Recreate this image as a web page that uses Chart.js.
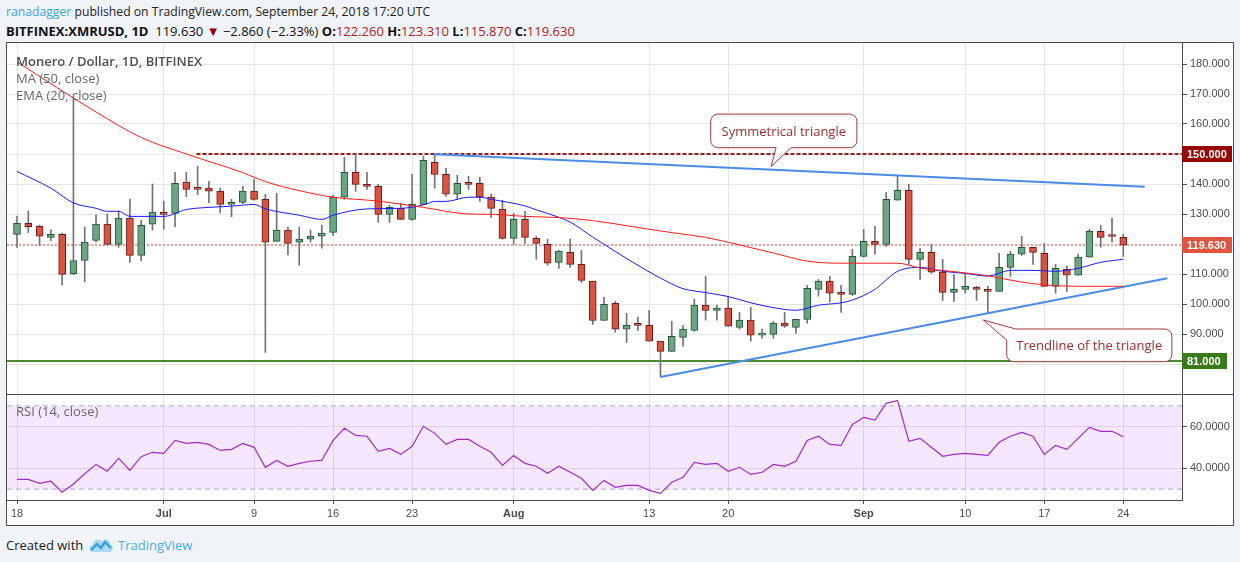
<!DOCTYPE html>
<html>
<head>
<meta charset="utf-8">
<script src="https://cdn.jsdelivr.net/npm/chart.js@4.4.1/dist/chart.umd.min.js"></script>
<style>
  body { margin: 0; width: 1240px; height: 562px; background: #f0f3f7; position: relative; overflow: hidden;
         font-family: 'Open Sans', 'Noto Sans', sans-serif; }
  #hdr1 { position: absolute; left: 6px; top: 3px; font-size: 12.2px; color: #222; white-space: nowrap; }
  #hdr1 .user { color: #3ba3db; }
  #hdr2 { position: absolute; left: 6px; top: 22px; font-size: 13px; color: #111; white-space: nowrap; }
  #hdr2 .r { color: #b0201e; }
  #frame { position: absolute; left: 6px; top: 42px; width: 1226px; height: 482px; border: 1px solid #4b4b4b; background: #fff; }
  #frame canvas { position: absolute; left: 0; }
  .lbl { position: absolute; left: 9px; font-size: 13px; color: #666; white-space: nowrap; }
  #foot { position: absolute; left: 6px; top: 536px; font-size: 13px; color: #222; white-space: nowrap; }
  #foot svg { position: absolute; left: 82px; top: 1px; }
  #foot .tv { position: absolute; left: 112px; top: 0; color: #45aee4; }
</style>
</head>
<body>
<div id="hdr1"><span class="user">ranadagger</span> published on TradingView.com, September 24, 2018 17:20 UTC</div>
<div id="hdr2"><b>BITFINEX:XMRUSD, 1D</b>&nbsp; 119.630 <span style="color:#8b0000">&#9660;</span> &minus;2.860 (&minus;2.33%) <b>O:</b><span class="r">122.260</span> <b>H:</b><span class="r">123.310</span> <b>L:</b><span class="r">115.870</span> <b>C:</b><span class="r">119.630</span></div>

<div id="frame">
  <canvas id="main" width="1226" height="351" style="top:0;width:1226px;height:351px"></canvas>
  <canvas id="rsi" width="1226" height="131" style="top:351px;width:1226px;height:131px"></canvas>
  <div class="lbl" style="top:9px;color:#4f4f4f;font-weight:600">Monero / Dollar, 1D, BITFINEX</div>
  <div class="lbl" style="top:26px">MA (50, close)</div>
  <div class="lbl" style="top:43px">EMA (20, close)</div>
  <div class="lbl" style="top:359px">RSI (14, close)</div>
</div>

<div id="foot">Created with
  <svg width="26" height="16" viewBox="0 0 26 16"><path d="M5 15 C0 15 0 8 5 8 C5 2 12 1 14 5 C16 1 23 2 22 8 C26 8 26 15 21 15 Z" fill="#a8daf2"/><polyline points="3,13 9,7 13,11 17,5 23,11" fill="none" stroke="#3ba4dc" stroke-width="2.5"/></svg>
  <span class="tv">TradingView</span>
</div>

<script>
// ---- data (day index 0 = Jun 18 2018, 98 = Sep 24 2018) ----
const opens = [123.2,126.9,125.9,122.2,123.2,110.1,114.5,121.2,126.6,119.9,
  128.6,116.2,126.6,130.6,130.2,140.6,138.6,138.6,137.6,133.2,
  133.9,137.6,134.9,120.9,124.6,120.6,121.6,122.6,123.9,135.6,
  143.9,139.6,139.2,129.9,131.9,128.2,133.2,147.2,143.2,136.6,
  140.2,140.2,135.6,131.6,121.9,128.2,121.9,119.9,113.9,117.2,
  113.2,107.6,94.5,100.2,91.6,93.2,92.9,87.6,84.2,88.9,
  91.2,99.6,97.9,98.6,92.2,94.6,89.6,89.9,93.6,92.2,
  94.9,104.9,107.6,103.6,103.2,115.9,120.9,119.9,134.6,137.9,
  114.9,117.2,110.6,103.9,104.9,105.6,104.9,104.2,112.2,116.6,
  118.9,116.9,105.9,111.6,109.6,115.6,124.2,122.6,122.26];
const highs = [129.3,131.0,126.3,124.7,123.6,169.0,125.6,129.7,130.0,131.0,
  135.0,127.9,140.0,134.3,143.9,143.9,146.0,140.9,138.6,134.9,
  139.2,141.6,136.6,136.9,125.6,125.6,124.7,126.3,136.2,148.9,
  149.9,143.9,139.9,132.9,133.6,143.2,149.3,149.9,145.2,142.9,
  142.6,142.2,136.6,134.6,130.2,130.9,122.6,121.6,117.9,121.6,
  117.9,107.6,102.2,100.9,96.9,95.6,97.9,87.6,94.2,92.9,
  101.6,109.2,99.6,102.6,97.2,98.9,91.6,94.2,97.2,94.9,
  106.2,108.2,109.2,106.2,118.2,124.9,125.9,137.2,142.9,139.9,
  118.6,119.9,114.9,109.9,109.9,105.9,105.9,116.9,117.6,122.6,
  118.9,120.2,113.2,112.6,116.6,124.9,126.2,128.6,123.31];
const lows = [118.9,123.8,119.6,121.1,106.4,109.8,107.4,120.6,119.9,118.9,
  113.9,114.4,124.6,124.9,125.8,135.8,136.4,133.8,130.4,129.1,
  133.4,134.6,83.9,120.9,116.4,112.9,120.6,118.6,122.9,134.9,
  137.6,138.2,127.2,127.2,128.2,127.9,133.2,138.6,135.9,134.9,
  138.2,134.2,128.9,121.6,119.9,120.2,114.9,112.9,111.9,112.2,
  107.2,93.2,94.5,90.6,87.2,91.2,87.6,75.7,84.2,85.9,
  90.9,94.6,94.6,92.6,91.6,87.6,88.6,88.6,92.2,90.2,
  93.6,102.6,100.6,97.2,102.9,115.6,116.6,119.2,134.6,113.2,
  108.2,110.2,101.2,100.9,103.6,101.2,96.9,104.2,109.2,116.2,
  113.2,105.9,103.6,104.2,109.6,115.6,118.9,120.6,115.87];
const closes = [126.9,125.8,122.6,123.2,109.9,114.5,120.6,126.6,119.9,128.6,
  116.2,126.2,130.6,129.9,140.2,138.2,138.2,137.6,133.2,133.9,
  137.6,134.9,120.6,124.6,120.2,121.6,122.6,123.6,135.6,143.9,
  139.9,139.2,129.9,132.2,128.2,133.2,147.9,143.2,136.6,140.2,
  139.9,135.6,131.9,121.9,128.2,122.2,120.2,113.6,117.6,113.2,
  107.9,94.5,99.9,91.6,92.9,92.9,87.6,84.2,89.2,91.6,
  99.6,97.9,98.6,92.6,94.6,89.6,90.2,93.6,92.6,94.9,
  105.2,107.6,103.6,103.2,115.9,120.9,119.9,134.9,137.9,114.9,
  117.2,110.6,103.9,104.9,105.9,104.9,104.2,112.2,116.6,118.9,
  117.2,105.9,111.9,109.6,115.6,124.2,122.2,122.49,119.63];

// moving averages at these days
const ma50Days = [0,7,11,15,20,22,25,28,32,36,40,42,45,48,51,55,58,61,64,67,70,73,78,80,83,86,89,92,95,98];
const ma50Vals = [180.7,164.0,155.5,150.0,143.8,140.8,137.8,135.6,134.3,132.2,130.0,129.9,129.2,128.8,127.8,
  125.5,123.8,122.2,119.7,117.0,114.3,113.6,113.6,112.0,110.8,109.4,107.3,106.1,105.9,105.9];
const ema20Days = [0,3,5,7,8,9,10,13,15,17,19,21,22,25,27,28,31,34,36,37,38,40,41,42,45,46,48,49,51,52,
  53,56,58,59,61,63,65,67,69,71,73,74,76,77,78,80,82,84,86,88,90,92,94,96,98];
const ema20Vals = [144.2,138.6,133.7,131.9,130.9,130.9,129.2,129.2,131.5,132.2,132.6,133.2,131.7,129.6,128.2,
  129.6,131.7,131.9,133.0,134.2,134.2,135.6,135.6,134.9,132.7,131.4,128.9,127.3,122.3,119.9,
  117.5,110.7,106.7,105.1,103.8,102.5,100.4,98.8,97.9,99.6,100.4,101.3,104.9,108.0,110.9,
  112.2,110.9,110.2,109.3,111.2,111.2,110.9,111.9,113.9,114.9];

const rsiVals = [34.7,34.7,32.8,33.8,28.5,32.5,37.4,41.9,38.6,44.8,
  39.0,45.6,47.7,47.2,53.4,52.0,52.5,51.5,48.6,49.1,
  52.0,50.1,40.5,43.8,41.0,42.4,43.4,43.8,53.4,59.2,
  55.8,55.4,48.2,49.6,46.7,50.6,60.2,56.8,51.5,53.9,
  53.9,50.6,47.7,41.4,46.2,42.4,41.0,37.6,41.0,38.1,
  35.2,29.4,34.2,30.9,31.8,31.8,29.4,28.0,33.3,35.7,
  42.9,41.9,42.4,38.6,40.5,37.1,38.1,41.9,41.0,43.4,
  53.4,55.4,51.5,51.0,61.1,64.5,63.2,71.2,72.6,53.0,
  54.4,50.1,45.8,46.7,47.2,46.7,46.2,52.5,55.4,57.3,
  55.4,46.7,51.0,49.1,54.4,59.7,57.8,57.8,55.2];

// triangle trendlines (day, price)
const triUpperDays = [36.96, 99.9];
const triUpperVals = [149.9, 139.1];
const triLowerDays = [57, 101.9];
const triLowerVals = [75.7, 108.6];

const resistance = 150, support = 81, lastPrice = 119.63, resistanceFrom = 15.9;
const rsiUpper = 70, rsiLower = 30;

const tickDays = [0,13,21,28,35,44,56,63,75,84,91,98];
const tickLabels = ['18','Jul','9','16','23','Aug','13','20','Sep','10','17','24'];
const priceTicks = [80,90,100,110,120,130,140,150,160,170,180];
const rsiTicks = [40,60];

/* ------------------------------------------------ */

Chart.defaults.font.family = "'Liberation Sans', Arial, sans-serif";
Chart.defaults.font.size = 11;
Chart.defaults.color = '#4a4a4a';
Chart.defaults.animation = false;

const xMin = -0.886, xMax = 103.2;
const upFill = '#6ba583', upLine = '#225437', dnFill = '#d75442', dnLine = '#6b1a14';

let days = opens.map((v, i) => i);
let isUp = days.map((i) => closes[i] >= opens[i]);
let pts = (xs, ys) => xs.map((x, k) => ({ x: x, y: ys[k] }));

let levelTags = [
  { value: resistance, text: '150.000', bg: '#990000', w: 50 },
  { value: lastPrice, text: '119.630', bg: '#e0533e', w: 50 },
  { value: support, text: '81.000', bg: '#3a7a1a', w: 45 },
];

let callouts = [
  { text: 'Symmetrical triangle', box: [61.45, 163.3, 74.4, 152.1], tip: [66.8, 145.8], tail: 'bottom' },
  { text: 'Trendline of the triangle', box: [87.67, 91.67, 102.3, 80.77], tip: [85.6, 94.67], tail: 'topleft' },
];

function roundRectPath(ctx, l, t, r, b, rad, c) {
  ctx.beginPath();
  if (c.tail == 'topleft') {
    ctx.moveTo(c.tx, c.ty);
    ctx.lineTo(l + 9, t);
  } else {
    ctx.moveTo(l + rad, t);
  }
  ctx.lineTo(r - rad, t);
  ctx.arcTo(r, t, r, t + rad, rad);
  ctx.lineTo(r, b - rad);
  ctx.arcTo(r, b, r - rad, b, rad);
  if (c.tail == 'bottom') {
    ctx.lineTo(c.tx + 20, b);
    ctx.lineTo(c.tx, c.ty);
    ctx.lineTo(c.tx + 5, b);
  }
  ctx.lineTo(l + rad, b);
  ctx.arcTo(l, b, l, b - rad, rad);
  if (c.tail == 'topleft') {
    ctx.lineTo(l, t + 11);
  } else {
    ctx.lineTo(l, t + rad);
    ctx.arcTo(l, t, l + rad, t, rad);
  }
  ctx.closePath();
}

const mainOverlay = {
  id: 'mainOverlay',
  afterDatasetsDraw(chart) {
    let ctx = chart.ctx;
    let xs = chart.scales.x, ys = chart.scales.y;
    callouts.forEach((c) => {
      let l = xs.getPixelForValue(c.box[0]), t = ys.getPixelForValue(c.box[1]);
      let r = xs.getPixelForValue(c.box[2]), b = ys.getPixelForValue(c.box[3]);
      let shape = { tail: c.tail, tx: xs.getPixelForValue(c.tip[0]), ty: ys.getPixelForValue(c.tip[1]) };
      ctx.save();
      roundRectPath(ctx, l, t, r, b, 7, shape);
      ctx.fillStyle = 'rgba(255,255,255,0.92)';
      ctx.fill();
      ctx.strokeStyle = '#a3383d';
      ctx.lineWidth = 1;
      ctx.stroke();
      ctx.fillStyle = '#9b2c2c';
      ctx.font = "13px 'Open Sans', sans-serif";
      ctx.textAlign = 'center';
      ctx.textBaseline = 'middle';
      ctx.fillText(c.text, (l + r) / 2, (t + b) / 2 + 1);
      ctx.restore();
    });
  },
  afterDraw(chart) {
    let ctx = chart.ctx;
    let ys = chart.scales.y;
    let x0 = chart.chartArea.right;
    levelTags.forEach((tag) => {
      let y = Math.round(ys.getPixelForValue(tag.value));
      ctx.save();
      ctx.fillStyle = tag.bg;
      ctx.fillRect(x0, y - 8, tag.w, 16);
      ctx.fillStyle = '#fff';
      ctx.font = "bold 11px 'Liberation Sans', Arial, sans-serif";
      ctx.textBaseline = 'middle';
      ctx.fillText(tag.text, x0 + 5, y + 0.5);
      ctx.restore();
    });
  }
};

const paneDivider = {
  id: 'paneDivider',
  afterDraw(chart) {
    let ctx = chart.ctx;
    ctx.save();
    ctx.strokeStyle = '#4b4b4b';
    ctx.lineWidth = 1;
    ctx.beginPath();
    ctx.moveTo(0, 0.5);
    ctx.lineTo(chart.width, 0.5);
    ctx.stroke();
    ctx.restore();
  }
};

function lineSet(data, color, width, extra = {}) {
  return Object.assign({
    type: 'line', data: data, borderColor: color, borderWidth: width,
    pointRadius: 0, fill: false, order: 1,
  }, extra);
}

// keep the plot area exactly where the picture has it
function fixWidth(w) {
  return (s) => { s.width = w; s.paddingTop = 0; s.paddingBottom = 0; };
}
function fixHeight(h) {
  return (s) => { s.height = h; s.paddingLeft = 0; s.paddingRight = 0; };
}

/* ------------------------------------------------ */

new Chart(document.getElementById('main'), {
  type: 'line',
  data: {
    datasets: [
      {
        type: 'bar', order: 6, grouped: false, barThickness: 1,
        data: days.map((i) => ({ x: i, y: [lows[i], highs[i]] })),
        backgroundColor: '#737375',
      },
      {
        type: 'bar', order: 5, grouped: false, barThickness: 7, minBarLength: 2,
        data: days.map((i) => ({ x: i, y: [Math.min(opens[i], closes[i]), Math.max(opens[i], closes[i])] })),
        backgroundColor: days.map((i) => isUp[i] ? upFill : dnFill),
        borderColor: days.map((i) => isUp[i] ? upLine : dnLine),
        borderWidth: 1, borderSkipped: false,
      },
      lineSet(pts([xMin, xMax], [lastPrice, lastPrice]), '#e0533e', 1, { borderDash: [2, 2], order: 7 }),
      lineSet(pts([resistanceFrom, xMax], [resistance, resistance]), '#9b1b1b', 2, { borderDash: [4, 2], order: 7 }),
      lineSet(pts([xMin, xMax], [support, support]), '#4d8b31', 2, { order: 7 }),
      lineSet(pts(ma50Days, ma50Vals), '#ff1a1a', 1, { cubicInterpolationMode: 'monotone' }),
      lineSet(pts(ema20Days, ema20Vals), '#1a1aff', 1, { cubicInterpolationMode: 'monotone' }),
      lineSet(pts(triUpperDays, triUpperVals), '#4a8be6', 2),
      lineSet(pts(triLowerDays, triLowerVals), '#4a8be6', 2),
    ],
  },
  options: {
    responsive: false,
    animation: false,
    layout: { padding: 0 },
    plugins: { legend: { display: false }, tooltip: { enabled: false } },
    scales: {
      x: {
        type: 'linear', min: xMin, max: xMax, offset: false,
        grid: { color: '#e6e6e6', offset: false, drawTicks: false },
        border: { display: false },
        ticks: { display: false },
        afterBuildTicks: (s) => { s.ticks = tickDays.map((v) => ({ value: v })); },
        afterFit: fixHeight(0),
      },
      y: {
        type: 'linear', position: 'right', min: 70, max: 187, beginAtZero: false,
        grid: { color: '#e6e6e6', tickColor: '#4b4b4b', tickLength: 5 },
        border: { color: '#4b4b4b' },
        ticks: { padding: 3, color: '#4a4a4a', callback: (v) => v.toFixed(3) },
        afterBuildTicks: (s) => { s.ticks = priceTicks.map((v) => ({ value: v })); },
        afterFit: fixWidth(51),
      },
    },
  },
  plugins: [mainOverlay],
});

new Chart(document.getElementById('rsi'), {
  type: 'line',
  data: {
    datasets: [
      lineSet(pts([xMin, xMax], [rsiUpper, rsiUpper]), '#b9a7c8', 1,
        { borderDash: [5, 4], fill: '+1', backgroundColor: 'rgba(153,21,255,0.1)', order: 3 }),
      lineSet(pts([xMin, xMax], [rsiLower, rsiLower]), '#b9a7c8', 1, { borderDash: [5, 4], order: 3 }),
      lineSet(pts(days, rsiVals), '#a12cc1', 1.2, { order: 1 }),
    ],
  },
  options: {
    responsive: false,
    animation: false,
    layout: { padding: 0 },
    plugins: { legend: { display: false }, tooltip: { enabled: false } },
    scales: {
      x: {
        type: 'linear', min: xMin, max: xMax, offset: false,
        grid: { color: '#e6e6e6', offset: false, tickColor: '#4b4b4b', tickLength: 4 },
        border: { color: '#4b4b4b' },
        ticks: {
          padding: 3, color: '#4a4a4a', maxRotation: 0, autoSkip: false,
          callback: (v, i) => tickLabels[i],
          font: (c) => ({ size: 11, weight: ['Jul', 'Aug', 'Sep'].includes(tickLabels[c.index]) ? 'bold' : 'normal' }),
        },
        afterBuildTicks: (s) => { s.ticks = tickDays.map((v) => ({ value: v })); },
        afterFit: fixHeight(25),
      },
      y: {
        type: 'linear', position: 'right', min: 24.8, max: 75.7, beginAtZero: false,
        grid: { color: '#e6e6e6', tickColor: '#4b4b4b', tickLength: 5 },
        border: { color: '#4b4b4b' },
        ticks: { padding: 3, color: '#4a4a4a', callback: (v) => v.toFixed(4) },
        afterBuildTicks: (s) => { s.ticks = rsiTicks.map((v) => ({ value: v })); },
        afterFit: fixWidth(51),
      },
    },
  },
  plugins: [paneDivider],
});
</script>
</body>
</html>
